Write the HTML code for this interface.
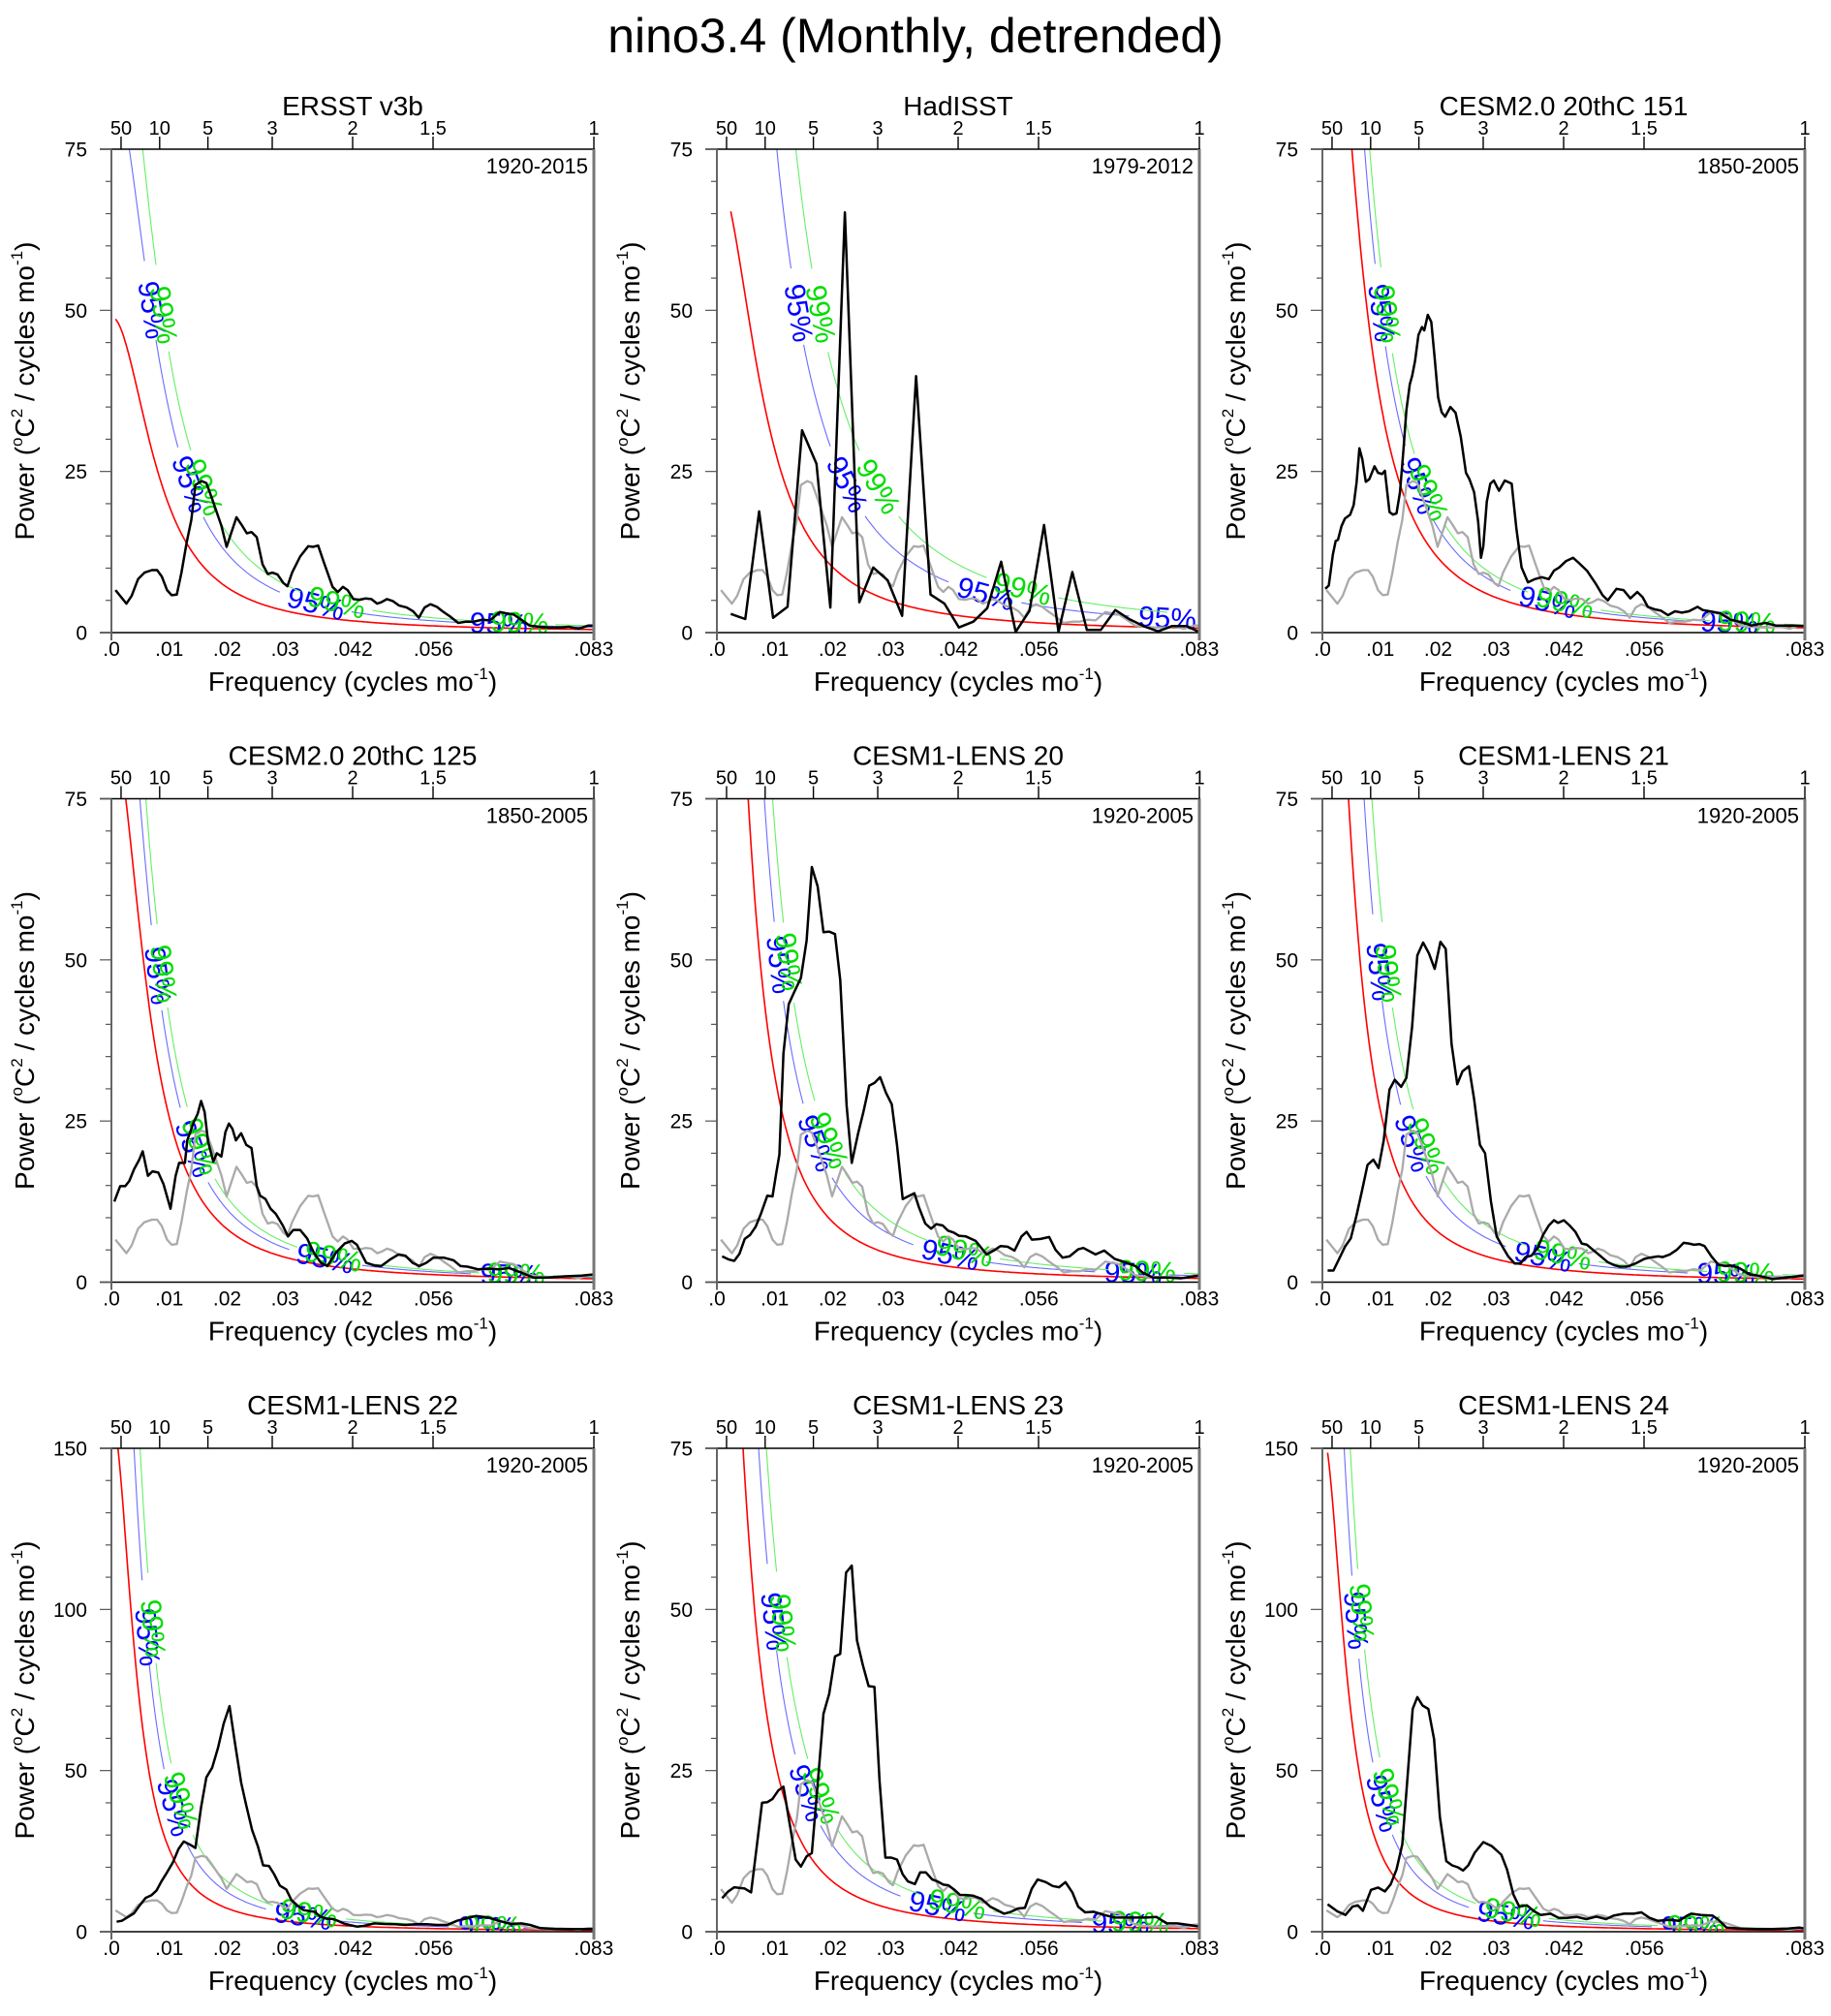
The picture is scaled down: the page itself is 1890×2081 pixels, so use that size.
<!DOCTYPE html>
<html><head><meta charset="utf-8"><title>nino3.4 spectra</title>
<style>
html,body{margin:0;padding:0;background:#fff;}
svg{display:block;font-family:"Liberation Sans",Arial,sans-serif;}
</style></head>
<body>
<svg id="fig" width="1890" height="2081" viewBox="0 0 1890 2081" xmlns="http://www.w3.org/2000/svg">
<text x="945" y="54" font-size="50" text-anchor="middle">nino3.4 (Monthly, detrended)</text>
</svg>
<script>
// ---- data ----
const panelTitles = ["ERSST v3b","HadISST","CESM2.0 20thC 151","CESM2.0 20thC 125","CESM1-LENS 20","CESM1-LENS 21","CESM1-LENS 22","CESM1-LENS 23","CESM1-LENS 24"];
const panelPeriods = ["1920-2015","1979-2012","1850-2005","1850-2005","1920-2005","1920-2005","1920-2005","1920-2005","1920-2005"];
const panelYMax = [75,75,75,75,75,75,150,75,150];
const redS0 = [49,71,121,86,168,140,160,140,155];
const redR = [0.95,0.95,0.96,0.96,0.97,0.97,0.973,0.97,0.973];
const redStart = [0.0007,0.0024,0.0005,0.0005,0.0009,0.0009,0.0009,0.0009,0.0009];
const ci95 = [1.75,2.75,1.4,1.37,1.72,1.72,1.69,1.72,1.69];
const ci99 = [2.2,4.0,1.6,1.6,2.2,2.2,2.15,2.2,2.15];
const xTickVals = [0,0.01,0.02,0.03,0.0417,0.0556,0.0833];
const xTickLabels = [".0",".01",".02",".03",".042",".056",".083"];
const periodYears = [50,10,5,3,2,1.5,1];
const periodLabels = ["50","10","5","3","2","1.5","1"];

const ersstFreq = [.0007,.0026,.0035,.0046,.0057,.0070,.0079,.0087,.0096,.0104,.0113,.0121,.0130,.0138,.0145,.0156,.0164,.0173,.0190,.0199,.0216,.0225,.0234,.0242,.0251,.0261,.0270,.0278,.0287,.0297,.0304,.0312,.0326,.0340,.0348,.0357,.0367,.0382,.0391,.0400,.0408,.0418,.0429,.0439,.0449,.0459,.0466,.0476,.0486,.0497,.0510,.0521,.0531,.0541,.0551,.0562,.0572,.0585,.0599,.0613,.0626,.0640,.0654,.0671,.0681,.0695,.0708,.0722,.0739,.0756,.0777,.0790,.0807,.0824,.0833];
const ersstPower = [6.6,4.5,5.7,8.3,9.3,9.7,9.7,8.7,6.6,5.8,5.9,9.3,14.0,17.5,22.9,23.5,23.2,21.0,16.6,13.3,17.9,16.7,15.4,15.6,14.8,10.6,9.1,9.3,9.0,7.7,7.2,9.3,11.8,13.4,13.3,13.5,10.9,7.1,6.3,7.1,6.6,5.2,5.1,5.3,5.2,4.5,4.7,5.2,4.9,4.2,3.9,3.3,2.3,3.9,4.4,4.0,3.3,2.5,1.5,1.7,1.7,2.0,1.9,3.2,3.0,2.8,2.0,1.1,0.9,0.8,0.8,0.9,0.6,1.1,1.1];

const hadFreq = [.0024,.0049,.0073,.0097,.0122,.0147,.0172,.0196,.0221,.0246,.0270,.0295,.0320,.0344,.0369,.0393,.0418,.0443,.0467,.0491,.0516,.0540,.0565,.0590,.0614,.0639,.0663,.0688,.0712,.0737,.0762,.0786,.0811,.0833];
const hadPower = [2.9,2.1,18.8,2.3,4.0,31.4,26.2,3.9,65.2,4.7,10.1,8.1,2.6,39.8,5.9,4.5,0.8,1.7,3.8,11.0,0.1,3.4,16.7,0.1,9.4,0.4,0.4,3.5,2.1,1.0,0.2,1.0,1.0,0.1];

const c151Freq = [.0005,.0011,.0018,.0023,.0027,.0033,.0039,.0048,.0054,.0059,.0064,.0069,.0075,.0081,.0090,.0096,.0103,.0108,.0116,.0122,.0128,.0134,.0140,.0145,.0151,.0155,.0160,.0166,.0172,.0176,.0182,.0188,.0194,.0200,.0206,.0212,.0221,.0230,.0239,.0248,.0254,.0262,.0269,.0274,.0278,.0284,.0290,.0296,.0305,.0315,.0327,.0335,.0344,.0355,.0367,.0379,.0391,.0400,.0409,.0421,.0433,.0442,.0457,.0472,.0484,.0493,.0508,.0520,.0532,.0544,.0553,.0562,.0574,.0585,.0597,.0609,.0621,.0633,.0648,.0657,.0669,.0687,.0705,.0729,.0741,.0765,.0783,.0812,.0833];
const c151Power = [6.8,7.3,12.1,14.2,14.4,16.5,17.7,18.3,19.8,23.3,28.6,26.9,23.4,23.8,25.8,24.8,24.6,25.1,18.7,18.3,18.5,21.8,28.4,34.5,38.5,39.8,42.1,46.2,47.4,46.9,49.3,48.2,42.6,36.5,34.2,33.5,35.0,34.1,30.4,24.8,23.8,21.8,17.2,11.6,13.4,20.3,23.1,23.6,22.0,23.6,23.1,16.2,10.1,7.8,8.3,8.6,8.3,9.6,10.1,11.1,11.6,10.9,9.6,7.6,5.8,5.0,6.8,6.6,5.3,6.3,5.5,4.0,3.6,3.4,2.7,3.3,3.1,3.3,4.0,3.5,3.3,3.0,2.0,1.5,1.1,1.5,1.1,1.1,1.0];

const c125Freq = [.0005,.0015,.0024,.0031,.0039,.0048,.0054,.0063,.0071,.0081,.0090,.0102,.0111,.0117,.0127,.0131,.0142,.0149,.0155,.0161,.0167,.0176,.0182,.0190,.0197,.0203,.0209,.0215,.0224,.0233,.0242,.0251,.0257,.0266,.0275,.0284,.0296,.0305,.0314,.0326,.0338,.0350,.0362,.0373,.0388,.0403,.0415,.0424,.0440,.0454,.0466,.0481,.0496,.0508,.0520,.0532,.0544,.0556,.0574,.0591,.0603,.0615,.0633,.0651,.0669,.0687,.0705,.0729,.0753,.0783,.0812,.0833];
const c125Power = [12.5,14.9,14.9,15.7,17.5,19.0,20.3,16.5,17.2,17.0,15.2,11.4,16.5,18.5,18.5,22.0,24.8,26.1,28.1,26.4,21.8,18.7,20.0,19.5,23.3,24.6,23.8,22.0,23.1,21.3,20.8,14.9,13.4,12.9,11.4,10.6,8.8,7.1,8.1,8.1,6.8,4.5,3.0,2.5,4.6,6.0,6.4,5.8,3.0,2.6,2.5,3.5,4.3,4.1,3.0,2.5,3.0,3.8,3.8,3.4,2.5,2.4,2.0,2.1,2.0,2.2,1.6,0.7,0.7,0.9,1.0,1.2];

const lens20Freq = [.0009,.0021,.0030,.0039,.0048,.0057,.0067,.0076,.0087,.0096,.0102,.0108,.0115,.0124,.0134,.0145,.0155,.0164,.0174,.0184,.0194,.0204,.0213,.0224,.0233,.0244,.0253,.0263,.0272,.0282,.0292,.0302,.0311,.0321,.0330,.0341,.0349,.0360,.0370,.0379,.0390,.0399,.0409,.0418,.0430,.0447,.0466,.0478,.0490,.0502,.0514,.0526,.0535,.0544,.0559,.0574,.0585,.0597,.0609,.0624,.0633,.0654,.0669,.0687,.0705,.0723,.0735,.0753,.0777,.0801,.0833];
const lens20Power = [4.0,3.5,3.3,4.4,6.7,7.3,8.6,10.6,13.4,13.3,16.7,19.8,35.5,43.1,45.1,47.2,53.0,64.4,61.4,54.3,54.4,54.0,46.9,27.4,18.5,23.1,26.4,30.5,30.9,31.8,29.4,27.6,21.3,12.9,13.3,13.8,11.6,9.1,8.3,9.0,8.8,8.0,7.7,7.2,7.1,6.4,4.3,4.9,5.6,5.5,4.9,7.1,7.8,6.6,6.7,7.0,5.0,3.8,4.0,5.1,5.3,4.3,4.9,3.6,3.1,2.5,1.5,0.7,0.7,0.6,1.0];

const lens21Freq = [.0009,.0019,.0030,.0039,.0049,.0059,.0069,.0078,.0088,.0097,.0106,.0116,.0125,.0136,.0145,.0155,.0164,.0174,.0184,.0194,.0204,.0213,.0223,.0233,.0242,.0253,.0262,.0272,.0281,.0291,.0301,.0311,.0321,.0332,.0342,.0351,.0361,.0372,.0381,.0391,.0400,.0407,.0417,.0427,.0437,.0448,.0457,.0469,.0481,.0493,.0505,.0514,.0526,.0541,.0556,.0565,.0580,.0588,.0600,.0612,.0624,.0633,.0642,.0651,.0660,.0672,.0684,.0696,.0705,.0720,.0738,.0753,.0777,.0801,.0833];
const lens21Power = [1.8,1.8,3.8,5.5,6.8,10.4,14.4,18.2,19.0,17.7,22.0,29.9,31.4,30.3,31.7,39.6,50.7,52.7,51.0,48.6,52.8,51.7,37.0,30.7,32.7,33.5,28.4,21.3,20.0,12.6,7.1,5.5,4.0,2.9,2.9,3.9,4.1,5.3,7.3,8.8,9.6,9.2,9.6,8.8,7.8,6.0,5.8,4.9,4.0,3.1,2.6,2.4,2.4,2.9,3.6,3.8,4.0,3.9,4.3,5.0,6.1,6.0,5.8,5.9,5.6,4.0,2.7,2.5,2.6,2.2,1.2,1.0,0.5,0.7,1.0];

const lens22Freq = [.0009,.0018,.0027,.0039,.0049,.0059,.0069,.0078,.0087,.0096,.0106,.0116,.0125,.0136,.0145,.0155,.0164,.0174,.0184,.0194,.0204,.0213,.0224,.0233,.0243,.0253,.0262,.0272,.0281,.0291,.0302,.0311,.0321,.0332,.0342,.0351,.0361,.0372,.0381,.0391,.0401,.0411,.0424,.0436,.0454,.0472,.0490,.0508,.0526,.0544,.0562,.0580,.0597,.0615,.0630,.0651,.0669,.0690,.0708,.0723,.0741,.0765,.0789,.0833];
const lens22Power = [3.1,3.4,4.4,5.7,8.2,10.5,11.3,12.8,15.8,18.4,21.4,25.7,28.0,27.0,26.0,38.7,47.9,50.9,57.0,64.6,70.0,59.0,46.3,39.2,31.6,26.5,20.6,20.4,17.9,14.3,13.1,9.8,8.2,6.7,6.4,6.2,4.7,4.0,4.0,3.4,2.6,2.1,1.6,1.8,2.6,2.4,2.3,2.1,2.3,2.3,2.1,2.1,3.4,4.2,4.9,4.4,3.4,2.4,2.6,2.1,1.1,0.9,0.8,0.8];

const lens23Freq = [.0009,.0019,.0030,.0048,.0059,.0069,.0078,.0087,.0096,.0106,.0115,.0125,.0136,.0145,.0155,.0164,.0174,.0184,.0194,.0204,.0213,.0223,.0233,.0242,.0252,.0262,.0272,.0281,.0291,.0301,.0311,.0321,.0330,.0342,.0351,.0361,.0372,.0381,.0391,.0400,.0409,.0420,.0430,.0442,.0457,.0472,.0496,.0508,.0520,.0532,.0544,.0554,.0568,.0580,.0591,.0602,.0614,.0624,.0636,.0651,.0669,.0687,.0705,.0723,.0741,.0759,.0777,.0795,.0818,.0833];
const lens23Power = [5.2,6.2,6.9,6.7,6.1,13.3,20.0,20.1,20.6,21.9,22.5,17.1,11.2,10.1,11.7,12.2,22.9,33.8,36.9,42.7,43.1,55.7,56.8,45.2,41.4,38.1,38.0,23.4,11.5,11.5,11.2,8.9,7.8,7.4,9.2,9.2,8.1,7.8,7.3,7.2,6.6,5.7,5.7,5.6,5.1,3.9,2.8,3.1,3.6,3.7,6.7,8.1,7.7,7.1,6.9,7.7,6.1,3.9,3.0,3.1,2.6,2.2,2.2,2.2,2.2,2.3,1.3,1.3,1.0,0.8];

const lens24Freq = [.0009,.0026,.0040,.0052,.0061,.0070,.0084,.0096,.0108,.0118,.0128,.0138,.0147,.0156,.0164,.0173,.0183,.0193,.0203,.0214,.0224,.0234,.0243,.0252,.0263,.0278,.0293,.0309,.0319,.0330,.0340,.0353,.0366,.0377,.0394,.0408,.0422,.0439,.0456,.0473,.0490,.0503,.0521,.0538,.0551,.0565,.0579,.0599,.0616,.0630,.0637,.0654,.0674,.0684,.0698,.0722,.0749,.0776,.0804,.0824,.0833];
const lens24Power = [8.5,6.3,5.2,7.8,8.2,6.5,13.0,13.7,12.5,14.7,19.3,27.1,48.0,69.1,72.8,70.2,69.1,59.7,35.6,21.9,20.6,20.0,19.0,20.6,24.5,27.8,26.5,23.9,19.3,11.5,7.8,8.2,6.3,5.2,5.6,4.3,4.3,4.6,3.9,4.7,3.9,5.0,5.6,5.6,6.0,4.3,3.4,3.7,3.4,5.0,5.6,5.2,5.0,3.7,1.3,1.0,0.8,0.8,1.0,1.3,1.0];

const panelFreqs = [ersstFreq,hadFreq,c151Freq,c125Freq,lens20Freq,lens21Freq,lens22Freq,lens23Freq,lens24Freq];
const panelPowers = [ersstPower,hadPower,c151Power,c125Power,lens20Power,lens21Power,lens22Power,lens23Power,lens24Power];
const ciLabelArc = [160,350,540,730];

// ---- drawing ----
const NS = "http://www.w3.org/2000/svg";
const svg = document.getElementById("fig");
const FMAX = 0.08333;
const PW = 498, PH = 499;
function mk(tag, attrs, parent){
  const e = document.createElementNS(NS, tag);
  for (const k in attrs) e.setAttribute(k, attrs[k]);
  (parent||svg).appendChild(e);
  return e;
}
function redNoise(p, f){
  const r = redR[p];
  return redS0[p]*(1-r)*(1-r)/(1 - 2*r*Math.cos(2*Math.PI*f) + r*r);
}

for (let p = 0; p < 9; p++){
  const col = p % 3, row = Math.floor(p/3);
  const L = 115 + 625*col, T = 154 + 670.5*row, B = T + PH, R = L + PW;
  const ymax = panelYMax[p];
  const xs = f => L + f/FMAX*PW;
  const ys = v => B - v/ymax*PH;

  const g = mk("g", {});
  
  

  const cp = mk("clipPath", {id:"clip"+p}, g);
  mk("rect", {x:L, y:T, width:PW, height:PH}, cp);
  const plot = mk("g", {"clip-path":"url(#clip"+p+")"}, g);
  
  

  const f0 = redStart[p];
  const curve = (fac) => { const pts = []; for (let f = f0; f <= FMAX + 1e-9; f += 0.0002) pts.push([xs(f), ys(redNoise(p,f)*fac)]); return pts; };
  const redPts = curve(1);
  const red = mk("polyline", {points: redPts.map(q=>q[0].toFixed(1)+","+q[1].toFixed(1)).join(" "), fill:"none", stroke:"#ff0000", "stroke-width":1.6}, plot);
  
  

  const ciDefs = [[ci95[p], "#0000ff", "#6b6bff", "95%", "ci95"], [ci99[p], "#00dd00", "#66ee66", "99%", "ci99"]];
  for (const cd of ciDefs){
    const pts = curve(cd[0]).filter(q => q[1] >= T - 40);
    const arc = [0]; let s0 = 0;
    for (let i = 1; i < pts.length; i++) arc.push(arc[i-1] + Math.hypot(pts[i][0]-pts[i-1][0], pts[i][1]-pts[i-1][1]));
    for (let i = 0; i < pts.length; i++){ if (pts[i][1] >= T){ s0 = arc[i]; break; } }
    const gaps = ciLabelArc.map(a => a + s0);
    let seg = [];
    const segs = [];
    for (let i = 0; i < pts.length; i++){
      const inGap = gaps.some(gc => Math.abs(arc[i]-gc) < 38);
      if (inGap){ if (seg.length>1) segs.push(seg); seg = []; }
      else seg.push(pts[i]);
    }
    if (seg.length>1) segs.push(seg);
    for (const sg of segs){
      const ln = mk("polyline", {points: sg.map(q=>q[0].toFixed(1)+","+q[1].toFixed(1)).join(" "), fill:"none", stroke:cd[2], "stroke-width":1.1}, plot);
      
      
    }
    for (const gc of gaps){
      let i = 1; while (i < pts.length-1 && arc[i] < gc) i++;
      if (arc[i] < gc) continue;
      const a = pts[Math.max(0,i-3)], b = pts[Math.min(pts.length-1,i+3)];
      const ang = Math.atan2(b[1]-a[1], b[0]-a[0])*180/Math.PI;
      const t = mk("text", {x:pts[i][0].toFixed(1), y:pts[i][1].toFixed(1), "font-size":30, fill:cd[1], "text-anchor":"middle", "dominant-baseline":"central", transform:"rotate("+ang.toFixed(1)+" "+pts[i][0].toFixed(1)+" "+pts[i][1].toFixed(1)+")"}, plot);
      t.textContent = cd[3];
      
      
    }
  }

  if (p !== 0){
    const gl = mk("polyline", {points: ersstFreq.map((f,i)=>xs(f).toFixed(1)+","+ys(ersstPower[i]).toFixed(1)).join(" "), fill:"none", stroke:"#aaaaaa", "stroke-width":2.3, "stroke-linejoin":"round"}, plot);
    
    
  }
  const fr = panelFreqs[p], pw = panelPowers[p];
  const bl = mk("polyline", {points: fr.map((f,i)=>xs(f).toFixed(1)+","+ys(pw[i]).toFixed(1)).join(" "), fill:"none", stroke:"#000", "stroke-width":2.5, "stroke-linejoin":"round"}, plot);
  
  

  const ax = mk("g", {}, g);
  
  
  mk("line", {x1:L-12, y1:T, x2:R+1, y2:T, stroke:"#000", "stroke-width":1.6}, ax);
  mk("line", {x1:L-12, y1:B, x2:R+1, y2:B, stroke:"#000", "stroke-width":1.6}, ax);
  mk("line", {x1:L, y1:T, x2:L, y2:B+8, stroke:"#666", "stroke-width":2}, ax);
  mk("line", {x1:R, y1:T, x2:R, y2:B+8, stroke:"#777", "stroke-width":3}, ax);
  const step = ymax/15;
  for (let k = 0; k <= 15; k++){
    const y = ys(k*step), major = (k % 5 === 0);
    mk("line", {x1:L-(major?12:6), y1:y, x2:L, y2:y, stroke:"#555", "stroke-width":1.2}, ax);
    if (major){
      const t = mk("text", {x:L-25, y:y+7.5, "font-size":21, "text-anchor":"end"}, ax);
      t.textContent = String(k*step);
      
      
    }
  }
  xTickVals.forEach((f,i) => {
    const t = mk("text", {x:xs(f), y:B+24, "font-size":21, "text-anchor":"middle"}, ax);
    t.textContent = xTickLabels[i];
    
    
  });
  periodYears.forEach((py,i) => {
    const x = xs(1/(12*py));
    mk("line", {x1:x, y1:T-13, x2:x, y2:T, stroke:"#000", "stroke-width":1.4}, ax);
    const t = mk("text", {x:x, y:T-15, "font-size":20, "text-anchor":"middle"}, ax);
    t.textContent = periodLabels[i];
    
    
  });

  const tt = mk("text", {x:L+PW/2, y:T-35, "font-size":28, "text-anchor":"middle"}, g);
  tt.textContent = panelTitles[p];
  
  
  const pr = mk("text", {x:R-6, y:T+25, "font-size":22, "text-anchor":"end"}, g);
  pr.textContent = panelPeriods[p];
  
  

  const xt = mk("text", {x:L+PW/2, y:B+60, "font-size":28, "text-anchor":"middle"}, g);
  
  
  xt.innerHTML = 'Frequency (cycles mo<tspan font-size="17" dy="-12">-1</tspan><tspan dy="12">)</tspan>';

  const cx = L - 80, cy = T + PH/2;
  const yt = mk("text", {x:cx, y:cy, "font-size":28, "text-anchor":"middle", transform:"rotate(-90 "+cx+" "+cy+")"}, g);
  
  
  yt.innerHTML = 'Power (<tspan font-size="17" dy="-12">o</tspan><tspan dy="12">C</tspan><tspan font-size="17" dy="-12">2</tspan><tspan dy="12"> / cycles mo</tspan><tspan font-size="17" dy="-12">-1</tspan><tspan dy="12">)</tspan>';
}
</script>
</body></html>
